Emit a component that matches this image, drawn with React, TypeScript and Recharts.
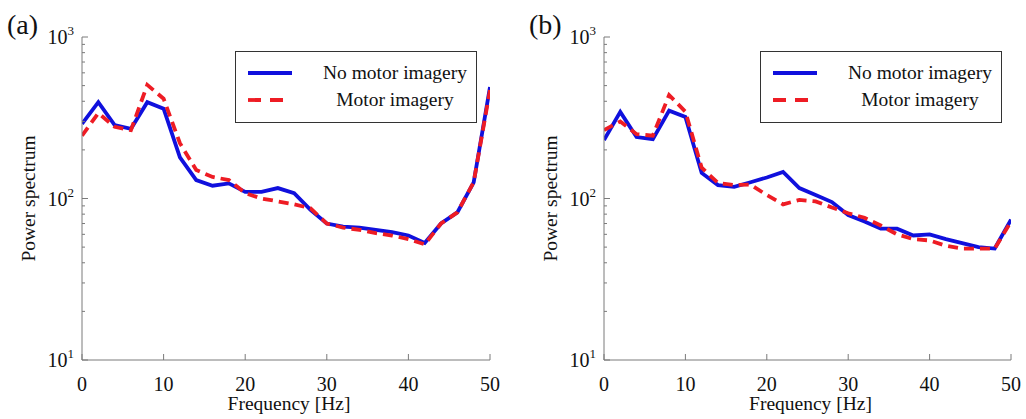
import { LineChart, Line, XAxis, YAxis, Legend } from 'recharts';

// frequency bins (Hz)
const freqs = [0, 2, 4, 6, 8, 10, 12, 14, 16, 18, 20, 22, 24, 26, 28, 30, 32, 34, 36, 38, 40, 42, 44, 46, 48, 50];

// panel (a)
const noMotorA = [290, 395, 285, 270, 395, 360, 180, 130, 120, 124, 110, 110, 116, 108, 85, 70, 67, 66, 64, 62, 59, 53, 70, 82, 126, 490];
const motorA = [245, 338, 278, 265, 505, 415, 220, 150, 136, 130, 108, 100, 96, 92, 87, 70, 66, 64, 61, 59, 56, 52, 70, 82, 126, 470];

// panel (b)
const noMotorB = [230, 344, 240, 233, 350, 320, 144, 121, 118, 126, 135, 146, 116, 105, 95, 79, 72, 65, 65, 59, 60, 56, 53, 50, 49, 74];
const motorB = [265, 300, 250, 245, 437, 345, 155, 125, 121, 122, 105, 92, 98, 96, 88, 81, 76, 68, 60, 56, 55, 51, 49, 49, 49, 72];

const xTicks = [0, 10, 20, 30, 40, 50];
const yTicks = [10, 20, 30, 40, 50, 60, 70, 80, 90, 100, 200, 300, 400, 500, 600, 700, 800, 900, 1000];

const FONT = "'Liberation Serif', 'Times New Roman', Times, serif";
const AXIS = '#7a7a7a';
const TXT = '#111';
const BLUE = '#1010dd';
const RED = '#ee1c24';
const GAP = 8;
const LW = 3.8;

const serif = (size: number) => ({ fontFamily: FONT, fontSize: size });

const isMajor = (v: number) => Math.abs(Math.pow(10, Math.round(Math.log10(v))) - v) < 1e-6;

const LeftTick = (props: any) => {
  const { x, y, payload } = props;
  const v = payload.value;
  const major = isMajor(v);
  const edge = x + GAP;
  return (
    <g>
      <line x1={edge} x2={edge + (major ? 6 : 3)} y1={y} y2={y} stroke={AXIS} />
      {major && (
        <text x={x} y={y} dy={7} textAnchor="end" style={serif(20)} fill={TXT}>
          10<tspan dy={-9} style={serif(13)}>{Math.round(Math.log10(v))}</tspan>
        </text>
      )}
    </g>
  );
};

const RightTick = (props: any) => {
  const { x, y, payload } = props;
  const major = isMajor(payload.value);
  return <line x1={x} x2={x - (major ? 6 : 3)} y1={y} y2={y} stroke={AXIS} />;
};

const BottomTick = (props: any) => {
  const { x, y, payload } = props;
  return (
    <g>
      <line x1={x} x2={x} y1={y} y2={y - 6} stroke={AXIS} />
      <text x={x} y={y + 31} textAnchor="middle" style={serif(20)} fill={TXT}>
        {payload.value}
      </text>
    </g>
  );
};

const TopTick = (props: any) => {
  const { x, y } = props;
  return <line x1={x} x2={x} y1={y} y2={y + 6} stroke={AXIS} />;
};

const legendOrder = ['nomi', 'mi'];

const LegendBox = (props: any) => {
  const payload = [...(props.payload || [])].sort(
    (a: any, b: any) => legendOrder.indexOf(a.dataKey) - legendOrder.indexOf(b.dataKey)
  );
  return (
    <svg width={242} height={72} style={{ display: 'block' }}>
      <rect x={0.5} y={0.5} width={241} height={71} fill="#fff" stroke="#333" />
      {payload.map((e: any, i: number) => {
        const y = 22 + i * 27;
        return (
          <g key={e.value}>
            <line
              x1={13}
              x2={57}
              y1={y}
              y2={y}
              stroke={e.color}
              strokeWidth={LW}
              strokeDasharray={e.dataKey === 'mi' ? '13 9' : undefined}
            />
            <text x={160} y={y + 6} textAnchor="middle" style={serif(19.5)} fill={TXT}>
              {e.value}
            </text>
          </g>
        );
      })}
    </svg>
  );
};

type PanelProps = {
  tag: string;
  noMotor: number[];
  motor: number[];
  left: number;
  width: number;
  marginLeft: number;
  marginRight: number;
  legendLeft: number;
};

const Panel = ({ tag, noMotor, motor, left, width, marginLeft, marginRight, legendLeft }: PanelProps) => {
  const data = freqs.map((f, i) => ({ f, nomi: noMotor[i], mi: motor[i] }));
  const plotLeft = marginLeft + 60;
  const plotRight = width - marginRight;
  const plotTop = 37;
  const plotBottom = 360;
  const midY = (plotTop + plotBottom) / 2;
  return (
    <div style={{ position: 'absolute', left, top: 0, width, height: 419 }}>
      <LineChart
        width={width}
        height={419}
        data={data}
        margin={{ top: plotTop, right: marginRight, bottom: 29, left: marginLeft }}
      >
        <XAxis
          dataKey="f"
          type="number"
          domain={[0, 50]}
          ticks={xTicks}
          interval={0}
          height={30}
          tickSize={0}
          tickMargin={0}
          tickLine={false}
          axisLine={{ stroke: AXIS }}
          tick={<BottomTick />}
          allowDataOverflow
        />
        <XAxis
          xAxisId="top"
          orientation="top"
          type="number"
          domain={[0, 50]}
          ticks={xTicks}
          interval={0}
          height={0}
          mirror
          tickSize={0}
          tickMargin={0}
          tickLine={false}
          axisLine={{ stroke: AXIS }}
          tick={<TopTick />}
          allowDataOverflow
        />
        <YAxis
          type="number"
          scale="log"
          domain={[10, 1000]}
          ticks={yTicks}
          interval={0}
          width={60}
          tickSize={0}
          tickMargin={GAP}
          tickLine={false}
          axisLine={{ stroke: AXIS }}
          tick={<LeftTick />}
          allowDataOverflow
        />
        <YAxis
          yAxisId="right"
          orientation="right"
          type="number"
          scale="log"
          domain={[10, 1000]}
          ticks={yTicks}
          interval={0}
          width={0}
          mirror
          tickSize={0}
          tickMargin={0}
          tickLine={false}
          axisLine={{ stroke: AXIS }}
          tick={<RightTick />}
          allowDataOverflow
        />
        <Line
          type="linear"
          dataKey="nomi"
          name="No motor imagery"
          stroke={BLUE}
          strokeWidth={LW}
          dot={false}
          isAnimationActive={false}
        />
        <Line
          type="linear"
          dataKey="mi"
          name="Motor imagery"
          stroke={RED}
          strokeWidth={LW}
          strokeDasharray="10 6"
          dot={false}
          isAnimationActive={false}
        />
        <Legend
          layout="vertical"
          align="center"
          verticalAlign="middle"
          wrapperStyle={{ left: legendLeft, top: 51, width: 242, height: 72 }}
          content={<LegendBox />}
        />
      </LineChart>
      <svg
        width={width}
        height={419}
        style={{ position: 'absolute', left: 0, top: 0, pointerEvents: 'none' }}
      >
        <text x={plotLeft - 75} y={34} style={serif(28)} fill={TXT}>
          {tag}
        </text>
        <text
          x={plotLeft - 47}
          y={midY}
          transform={`rotate(-90 ${plotLeft - 47} ${midY})`}
          textAnchor="middle"
          style={serif(19.5)}
          fill={TXT}
        >
          Power spectrum
        </text>
        <text x={(plotLeft + plotRight) / 2 + 3} y={410} textAnchor="middle" style={serif(19.5)} fill={TXT}>
          Frequency [Hz]
        </text>
      </svg>
    </div>
  );
};

export default function App() {
  return (
    <div
      style={{
        position: 'absolute',
        left: 0,
        top: 0,
        width: 1026,
        height: 419,
        background: '#fff',
        fontFamily: FONT,
      }}
    >
      <Panel tag="(a)" noMotor={noMotorA} motor={motorA} left={0} width={500} marginLeft={22} marginRight={10} legendLeft={235} />
      <Panel tag="(b)" noMotor={noMotorB} motor={motorB} left={520} width={506} marginLeft={24} marginRight={15} legendLeft={240} />
    </div>
  );
}
